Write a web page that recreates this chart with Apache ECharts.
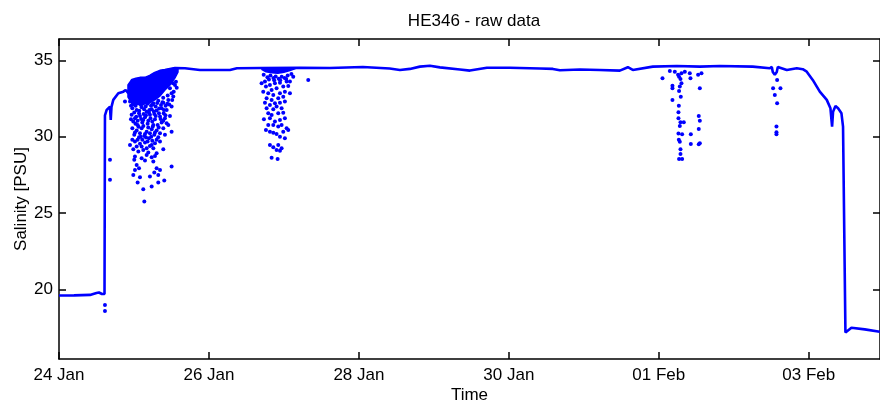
<!DOCTYPE html>
<html><head><meta charset="utf-8">
<script src="https://cdn.jsdelivr.net/npm/echarts@6.0.0/dist/echarts.min.js"></script>
<style>html,body{margin:0;padding:0;background:#fff}#c{width:880px;height:405px}</style>
</head><body><div id="c"></div>
<script>
// x values are days since 24 Jan 00:00
const tickDays = [0, 2, 4, 6, 8, 10];
const tickLabels = ['24 Jan', '26 Jan', '28 Jan', '30 Jan', '01 Feb', '03 Feb'];
const yTicks = [20, 25, 30, 35];

const mainTrack = [
  [0,19.59],[0.2,19.60],[0.413,19.63],[0.5,19.76],[0.533,19.79],[0.573,19.69],[0.607,19.69],
  [0.613,31.40],[0.636,31.75],[0.68,31.97],[0.69,31.10],[0.70,31.95],[0.724,32.41],[0.791,32.85],
  [0.858,32.95],[0.889,33.06],[0.924,32.85],[0.973,33.72],[1.027,33.79],[1.08,33.85],[1.147,33.85],
  [1.213,33.98],[1.28,34.18],[1.347,34.31],[1.413,34.37],[1.48,34.44],[1.547,34.50],[1.68,34.48],
  [1.88,34.37],[2.28,34.37],[2.373,34.48],[2.7,34.50],[3.213,34.52],[3.613,34.50],[4.053,34.57],
  [4.41,34.47],[4.547,34.37],[4.68,34.44],[4.813,34.59],[4.947,34.65],[5.08,34.54],[5.347,34.40],
  [5.48,34.33],[5.707,34.52],[6.013,34.52],[6.413,34.47],[6.587,34.44],[6.68,34.35],[6.947,34.40],
  [7.213,34.37],[7.48,34.33],[7.587,34.55],[7.653,34.37],[7.92,34.59],[8.24,34.63],[8.547,34.59],
  [8.813,34.63],[9.253,34.59],[9.48,34.48],[9.507,34.57],[9.52,34.24],[9.547,34.05],[9.573,34.24],
  [9.587,34.57],[9.707,34.37],[9.84,34.48],[9.92,34.42],[9.973,34.26],[10.053,33.72],[10.147,32.95],
  [10.24,32.41],[10.289,31.86],[10.311,30.66],[10.324,31.64],[10.356,32.01],[10.391,31.86],
  [10.436,31.53],[10.457,30.66],[10.489,17.16],[10.569,17.48],[10.747,17.37],[10.947,17.22]
];

// dense noisy bands (upper / lower edges)
const blob1Days = [0.92,0.95,0.973,1.0,1.027,1.08,1.147,1.213,1.25,1.28,1.347,1.413,1.48,1.547,1.587];
const blob1Top = [33.39,33.60,33.72,33.70,33.79,33.85,33.85,33.98,34.10,34.18,34.31,34.37,34.44,34.50,34.50];
const blob1Bottom = [32.60,32.35,32.21,32.30,32.15,32.08,32.15,32.21,32.35,32.41,32.67,33.06,33.39,33.85,34.24];

const blob2Days = [2.707,2.76,2.84,2.92,3.0,3.08,3.147];
const blob2Top = [34.50,34.50,34.50,34.50,34.50,34.50,34.50];
const blob2Bottom = [34.40,34.25,34.18,34.15,34.22,34.33,34.45];

const spikes1 = [
  [0.947,32.30],[0.991,32.19],[1.058,32.36],[1.124,32.23],[1.191,32.30],[1.258,32.19],[1.324,32.36],[1.391,32.23],[1.458,32.41],[1.524,32.63],[1.502,32.85],[1.48,33.17],[1.547,33.39],
  [0.978,31.86],[1.036,31.75],[1.102,31.93],[1.169,31.64],[1.236,31.80],[1.302,31.71],[1.369,31.86],[1.436,31.75],[1.502,31.97],
  [0.969,31.43],[1.013,31.21],[1.08,31.36],[1.147,31.27],[1.213,31.43],[1.28,31.14],[1.347,31.32],[1.413,31.21],[1.48,31.36],
  [0.991,30.99],[1.049,30.77],[1.111,30.92],[1.182,30.84],[1.244,30.99],[1.316,30.77],[1.369,30.92],[1.436,30.88],
  [0.978,30.55],[1.036,30.40],[1.102,30.55],[1.169,30.33],[1.236,30.49],[1.302,30.40],[1.391,30.55],[1.502,30.33],
  [1.004,30.12],[1.067,29.96],[1.138,30.05],[1.2,29.90],[1.271,30.12],[1.324,29.96],
  [0.947,29.46],[1.013,29.68],[1.08,29.53],[1.147,29.61],[1.213,29.39],[1.28,29.57],[1.391,29.18],[1.347,29.68],
  [0.991,29.18],[1.058,29.02],[1.124,29.13],[1.191,28.96],[1.258,29.24],[1.302,28.91],
  [1.013,28.70],[1.102,28.59],[1.169,28.80],[1.236,28.65],[1.28,28.74],
  [1.004,28.48],[1.147,28.43],[1.258,28.37],[1.036,28.15],
  [1.067,27.93],[1.013,27.82],[1.302,27.93],[1.347,27.82],[1.502,28.04],[1.271,27.65],
  [0.991,27.49],[1.213,27.39],[1.08,27.34],[1.324,27.49],[1.049,26.99],[1.404,27.12],[1.324,26.99],[1.124,26.55],
  [1.138,25.75],[1.236,26.73],
  [0.88,32.30],[0.68,28.48],[0.68,27.17],[0.613,18.97],[0.613,18.58],
  [0.96,32.02],[1.022,32.02],[1.093,32.08],[1.156,31.97],[1.227,32.02],[1.289,31.97],[1.36,32.08],[1.422,32.02],
  [1.004,31.58],[1.067,31.54],[1.129,31.49],[1.2,31.58],[1.271,31.49],[1.333,31.54],[1.396,31.54],
  [0.96,31.14],[1.049,31.05],[1.124,31.10],[1.191,31.05],[1.258,30.77],[1.391,31.05],[1.458,30.77],
  [1.013,30.27],[1.08,30.22],[1.147,30.18],[1.213,30.22],[1.28,30.27],[1.347,30.22],[1.413,30.12],
  [0.978,29.79],[1.049,29.79],[1.111,29.79],[1.182,29.68],[1.244,29.74],[1.302,29.79],
  [1.102,29.35],[1.169,29.24],[1.236,29.46],[1.036,29.35],
  [0.985,32.10],[1.04,32.25],[1.07,31.70],[1.115,32.15],[1.135,31.80],[1.18,32.15],[1.205,31.75],[1.25,32.10],
  [1.265,31.65],[1.31,32.20],[1.335,31.85],[1.38,32.25],[1.4,31.75],[1.445,32.15],[1.03,31.30],[1.095,31.15],
  [1.16,31.40],[1.22,31.20],[1.29,31.35],[1.355,31.15],[1.42,31.40],[1.06,30.65],[1.125,30.70],[1.19,30.60],
  [1.25,30.65],[1.33,30.60],[1.09,30.00],[1.16,29.95],[1.23,30.00],[1.02,30.85],[1.47,32.10],[1.51,32.40],
  [1.53,32.95],[1.56,33.60],[1.57,33.20],[1.52,33.50],[1.45,32.70],[1.39,32.55]
];

const spikes2 = [
  [2.747,33.61],[2.813,33.39],[2.88,33.50],[2.947,33.54],[3.036,33.61],[2.76,33.28],[2.836,33.06],[2.902,33.17],
  [2.991,33.28],[3.058,33.32],[2.791,32.85],[2.858,32.73],[2.947,32.85],[3.013,32.95],[2.769,32.52],[2.836,32.41],
  [2.924,32.52],[2.991,32.62],[2.747,32.23],[2.813,32.08],[2.88,32.19],[2.947,32.23],[3.013,32.30],[2.769,31.86],
  [2.858,31.80],[2.902,31.97],[2.969,31.86],[2.791,31.53],[2.836,31.42],[2.924,31.53],[2.991,31.57],[2.733,31.14],
  [2.813,31.21],[2.88,30.99],[2.947,31.10],[3.013,31.21],[2.791,30.77],[2.858,30.77],[2.924,30.66],[2.969,30.77],
  [3.036,30.55],[2.76,30.44],[2.813,30.33],[2.858,30.26],[2.902,30.18],[2.991,30.33],[3.058,30.44],[2.947,30.00],
  [3.013,29.90],[2.813,29.46],[2.858,29.31],[2.924,29.46],[2.969,29.24],[2.902,29.13],[2.947,29.08],[2.836,28.62],
  [2.916,28.54],[3.324,33.72],[3.08,33.61],[2.702,33.50],[3.124,33.93],[2.724,32.95],[3.08,32.85],
  [2.73,34.05],[2.78,33.90],[2.82,34.00],[2.86,33.85],[2.89,33.95],[2.93,33.80],[2.97,33.92],[3.01,33.85],
  [3.05,34.00],[3.10,34.10],[2.80,33.75],[2.95,33.70],[2.87,33.70],[3.03,33.78]
];

const spikes3 = [
  [8.049,33.83],[8.182,33.34],[8.182,33.17],[8.182,32.41],[8.302,33.50],[8.28,33.28],[8.27,32.99],[8.293,32.62],
  [8.267,32.03],[8.262,31.60],[8.262,31.21],[8.289,30.94],[8.333,30.94],[8.28,30.70],[8.262,30.20],[8.311,30.16],
  [8.267,29.79],[8.28,29.67],[8.289,29.18],[8.289,28.87],[8.27,28.54],[8.311,28.54],[8.427,30.16],[8.427,29.52],
  [8.547,33.17],[8.533,31.36],[8.547,31.05],[8.533,30.51],[8.533,29.50],[8.547,29.57],
  [8.147,34.31],[8.213,34.26],[8.257,34.05],[8.302,34.16],[8.347,34.26],[8.413,34.16],[8.422,33.83],[8.524,34.05],
  [8.569,34.16],[8.27,33.93],[8.289,33.78],
  [9.524,33.17],[9.622,33.17],[9.547,32.73],[9.578,32.19],[9.569,30.66],[9.569,30.29],[9.569,30.16],[9.578,33.72]
];

const BLUE = '#0000ff';
const FONT = 'Liberation Sans, Arial, Helvetica, sans-serif';

const axisCommon = {
  axisLine: { show: true, onZero: false, lineStyle: { color: '#000', width: 1.5 } },
  axisTick: { show: true, inside: true, length: 7, lineStyle: { color: '#000', width: 1.5 } },
  splitLine: { show: false }
};

function bandSeries(days, top, bottom) {
  return {
    type: 'custom', silent: true,
    data: days.map((d, i) => [d, top[i], bottom[i]]),
    encode: { x: 0, y: [1, 2] },
    renderItem: (params, api) => {
      if (params.dataIndex !== 0) return null;
      const upper = days.map((d, i) => api.coord([d, top[i]]));
      const lower = days.map((d, i) => api.coord([d, bottom[i]])).reverse();
      return {
        type: 'polygon',
        shape: { points: upper.concat(lower) },
        style: { fill: BLUE, stroke: BLUE, lineWidth: 1.5 }
      };
    }
  };
}

const chart = echarts.init(document.getElementById('c'), null, { renderer: 'canvas' });
chart.setOption({
  animation: false,
  backgroundColor: '#fff',
  title: {
    text: 'HE346 - raw data', left: 469, top: 8, textAlign: 'center',
    textStyle: { fontFamily: FONT, fontSize: 17, fontWeight: 'normal', color: '#000' }
  },
  grid: { left: 59, right: 0, top: 39, bottom: 46, containLabel: false, outerBoundsMode: 'none' },
  xAxis: [
    Object.assign({}, axisCommon, {
      type: 'value', min: 0, max: 10.95, position: 'bottom',
      axisTick: Object.assign({}, axisCommon.axisTick, { customValues: tickDays }),
      axisLabel: {
        customValues: tickDays, margin: 8, color: '#000', fontFamily: FONT, fontSize: 17,
        formatter: v => tickLabels[tickDays.indexOf(Math.round(v))] || ''
      },
      name: 'Time', nameLocation: 'middle', nameGap: 27.5, nameMoveOverlap: false,
      nameTextStyle: { fontFamily: FONT, fontSize: 17, color: '#000' }
    }),
    Object.assign({}, axisCommon, {
      type: 'value', min: 0, max: 10.95, position: 'top',
      axisTick: Object.assign({}, axisCommon.axisTick, { customValues: tickDays }),
      axisLabel: { show: false }
    })
  ],
  yAxis: [
    Object.assign({}, axisCommon, {
      type: 'value', min: 15.43, max: 36.4, position: 'left',
      axisTick: Object.assign({}, axisCommon.axisTick, { customValues: yTicks }),
      axisLabel: { customValues: yTicks, margin: 6, color: '#000', fontFamily: FONT, fontSize: 17 },
      name: 'Salinity [PSU]', nameLocation: 'middle', nameGap: 29, nameMoveOverlap: false,
      nameTextStyle: { fontFamily: FONT, fontSize: 17, color: '#000' }
    }),
    Object.assign({}, axisCommon, {
      type: 'value', min: 15.43, max: 36.4, position: 'right',
      axisTick: Object.assign({}, axisCommon.axisTick, { customValues: yTicks }),
      axisLabel: { show: false }
    })
  ],
  series: [
    bandSeries(blob1Days, blob1Top, blob1Bottom),
    bandSeries(blob2Days, blob2Top, blob2Bottom),
    { type: 'line', data: mainTrack, symbol: 'none', lineStyle: { color: BLUE, width: 2.6 } },
    { type: 'scatter', data: spikes1.concat(spikes2, spikes3), symbol: 'circle', symbolSize: 4,
      itemStyle: { color: BLUE, opacity: 1 } }
  ]
});
</script>
</body></html>
